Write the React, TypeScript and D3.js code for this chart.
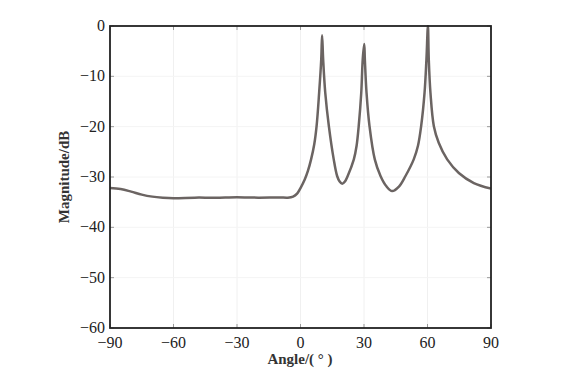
import React from "react";
import * as d3 from "d3";

const angles = [-90, -85, -80, -75, -70, -65, -60, -50, -40, -30, -20, -10, -6, -3.5, -1.6, 0, 2, 3.5, 5, 6.5, 7.6, 8.8, 9.8, 10.2, 10.7, 11.7, 13.4, 15.7, 17.3, 18.5, 19.7, 21, 22.3, 25.2, 26.5, 27.5, 28.7, 29.4, 30.1, 30.4, 31.2, 32.6, 35.1, 37.8, 40.5, 43.3, 46.5, 49.6, 53.5, 55.5, 57, 58.6, 59.5, 60.2, 60.6, 61.4, 63, 65.3, 69.3, 74.8, 81.9, 90];
const magnitudes = [-32.2, -32.4, -32.9, -33.5, -33.9, -34.1, -34.2, -34.1, -34.1, -34.0, -34.1, -34.05, -34.1, -33.9, -33.3, -32.2, -30.5, -28.8, -26.5, -23.5, -19.9, -13.3, -6.6, -1.85, -6.6, -13.3, -19.9, -26.5, -29.8, -30.9, -31.35, -30.9, -29.8, -26.5, -23.8, -19.9, -13.3, -6.6, -3.6, -6.6, -13.3, -19.9, -26.5, -29.8, -31.8, -32.8, -31.9, -29.8, -26.5, -23.8, -19.9, -13.3, -6.6, 0.0, -6.6, -13.3, -19.9, -23.2, -26.5, -29.2, -31.2, -32.3];

const xTicks = [-90, -60, -30, 0, 30, 60, 90];
const yTicks = [0, -10, -20, -30, -40, -50, -60];

export default function App() {
  const left = 110, right = 491, top = 26, bottom = 328;
  const x = d3.scaleLinear().domain([-90, 90]).range([left, right]);
  const y = d3.scaleLinear().domain([-60, 0]).range([bottom, top]);
  const pts: [number, number][] = angles.map((a, i) => [a, magnitudes[i]]);
  const line = d3
    .line<[number, number]>()
    .x((d) => x(d[0]))
    .y((d) => y(d[1]))
    .curve(d3.curveCatmullRom.alpha(0.5));
  const fmt = (v: number) => (v < 0 ? "\u2212" + Math.abs(v) : String(v));
  const font = "'Liberation Serif', 'Times New Roman', serif";
  return (
    <svg width={562} height={379} style={{ position: "absolute", left: 0, top: 0, background: "#fff" }}>
      <defs>
        <clipPath id="plotclip">
          <rect x={left} y={top - 1} width={right - left} height={bottom - top + 1} />
        </clipPath>
      </defs>
      {xTicks.slice(1, -1).map((t) => (
        <line key={"gx" + t} x1={x(t)} x2={x(t)} y1={top} y2={bottom} stroke="#f0f0f0" strokeWidth={1} />
      ))}
      {yTicks.slice(1, -1).map((t) => (
        <line key={"gy" + t} x1={left} x2={right} y1={y(t)} y2={y(t)} stroke="#f4f4f4" strokeWidth={1} />
      ))}
      {xTicks.map((t) => (
        <g key={"xt" + t}>
          <line x1={x(t)} x2={x(t)} y1={bottom} y2={bottom - 4} stroke="#999" />
          <line x1={x(t)} x2={x(t)} y1={top} y2={top + 4} stroke="#999" />
          <text x={x(t)} y={348} textAnchor="middle" fontFamily={font} fontSize={16} fill="#222">
            {fmt(t)}
          </text>
        </g>
      ))}
      {yTicks.map((t) => (
        <g key={"yt" + t}>
          <line x1={left} x2={left + 4} y1={y(t)} y2={y(t)} stroke="#999" />
          <line x1={right} x2={right - 4} y1={y(t)} y2={y(t)} stroke="#999" />
          <text x={105} y={y(t) + 5} textAnchor="end" fontFamily={font} fontSize={16} fill="#222">
            {fmt(t)}
          </text>
        </g>
      ))}
      <path d={line(pts) || ""} fill="none" stroke="#6b6462" strokeWidth={2.5} strokeLinejoin="round" clipPath="url(#plotclip)" />
      <rect x={left} y={top} width={right - left} height={bottom - top} fill="none" stroke="#222" strokeWidth={1.8} />
      <text x={300} y={364} textAnchor="middle" fontFamily={font} fontSize={15} fontWeight="bold" fill="#333">
        Angle/( ° )
      </text>
      <text transform={`translate(69,${(top + bottom) / 2}) rotate(-90)`} textAnchor="middle" fontFamily={font} fontSize={15} fontWeight="bold" fill="#333">
        Magnitude/dB
      </text>
    </svg>
  );
}
